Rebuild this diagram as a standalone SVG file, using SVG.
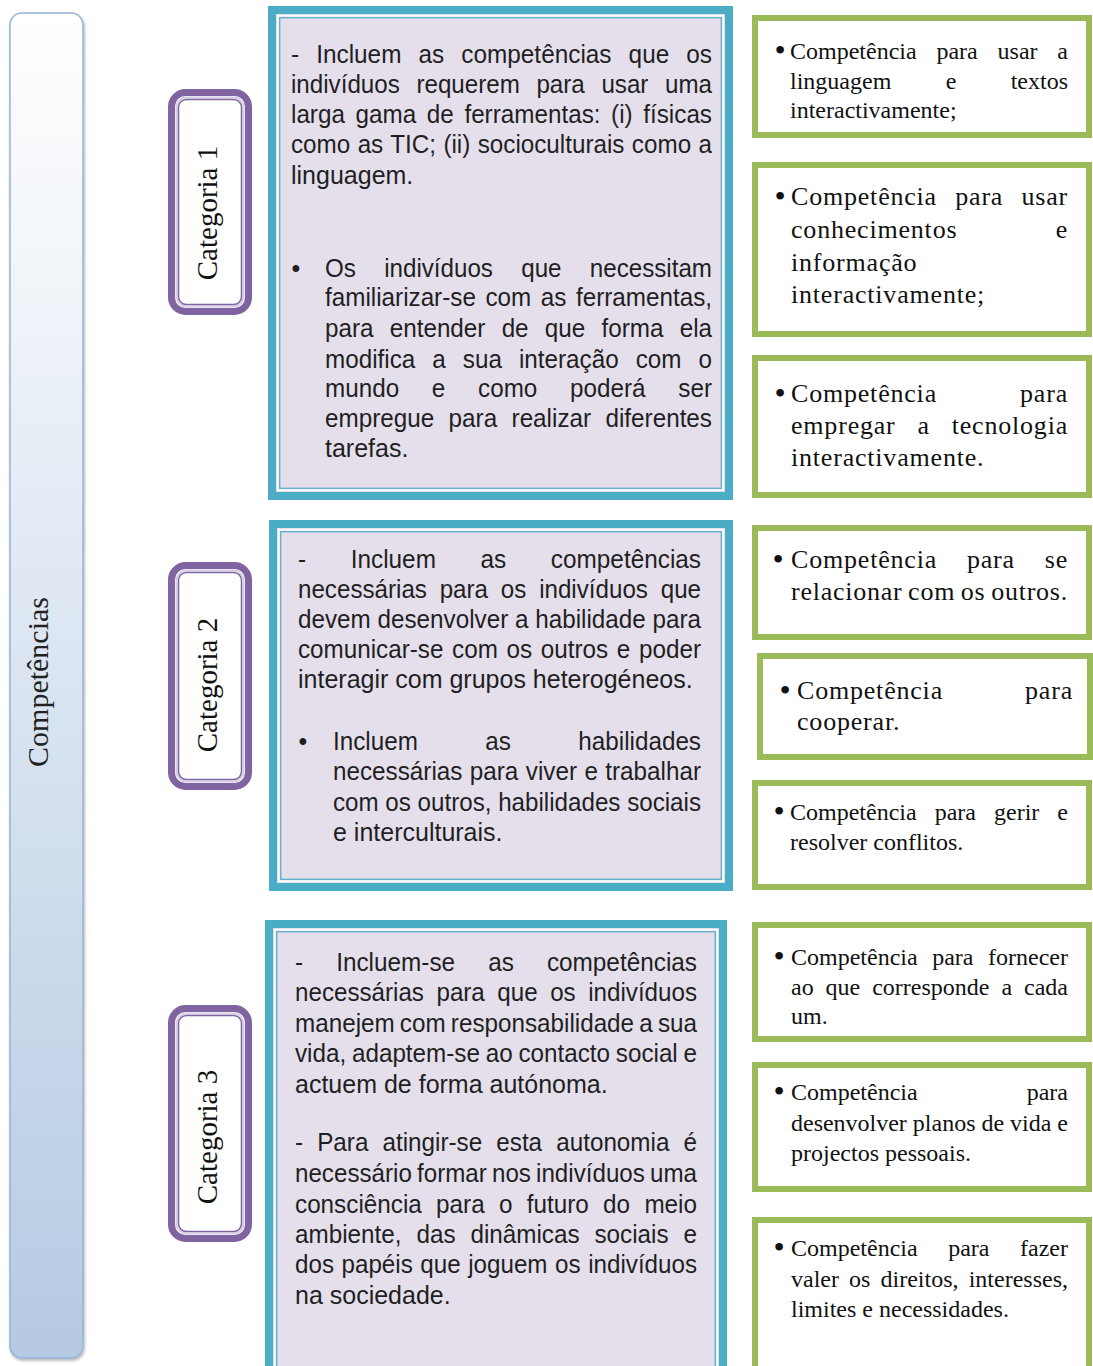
<svg xmlns="http://www.w3.org/2000/svg" width="1093" height="1366" viewBox="0 0 1093 1366">
<defs>
<linearGradient id="barGrad" x1="0" y1="0" x2="0" y2="1">
<stop offset="0" stop-color="#ffffff"/>
<stop offset="1" stop-color="#b5cae3"/>
</linearGradient>
<filter id="shadow" x="-20%" y="-5%" width="140%" height="110%">
<feDropShadow dx="1" dy="2" stdDeviation="1.5" flood-color="#000" flood-opacity="0.3"/>
</filter>
<style>
.bar{fill:url(#barGrad);stroke:#95b3d7;stroke-width:1.5}
.catO{fill:#ffffff;stroke:#8064a2;stroke-width:7}
.catM{fill:none;stroke:#d8cfe5;stroke-width:2}
.catI{fill:none;stroke:#8064a2;stroke-width:1.5}
.band{fill:#e5dfec;stroke:#4bacc6;stroke-width:8}
.wl{fill:none;stroke:#ffffff;stroke-width:1.5}
.tl{fill:none;stroke:#4bacc6;stroke-width:1.2}
.gb{fill:#ffffff;stroke:#9bbb59;stroke-width:6}
.bt{font-family:"Liberation Sans",Arial,sans-serif;font-size:25px;fill:#1f1f1f}
.gt{font-family:"Liberation Serif","Times New Roman",serif;font-size:24px;fill:#111111}
.gw{font-size:26px;letter-spacing:0.8px}
.gbul{font-family:"Liberation Serif","Times New Roman",serif;font-size:32px;fill:#111111}
.cat{font-family:"Liberation Serif","Times New Roman",serif;font-size:29px;fill:#111111}
.big{font-family:"Liberation Serif","Times New Roman",serif;font-size:30px;fill:#222222}
</style>
</defs>
<rect width="1093" height="1366" fill="#ffffff"/>

<g id="competencias">
<rect class="bar" x="10" y="13" width="73" height="1345" rx="12" filter="url(#shadow)"/>
<text class="big" transform="translate(48,682) rotate(-90)" text-anchor="middle">Competências</text>
</g>

<g id="categoria-1">
<rect class="catO" x="171.5" y="92.5" width="77" height="219" rx="14"/>
<rect class="catM" x="176.5" y="97.5" width="67" height="209" rx="10"/>
<rect class="catI" x="178.5" y="99.5" width="63" height="205" rx="8"/>
<text class="cat" transform="translate(217,213) rotate(-90)" text-anchor="middle">Categoria 1</text>
</g>
<g id="categoria-2">
<rect class="catO" x="171.5" y="565.5" width="77" height="221" rx="14"/>
<rect class="catM" x="176.5" y="570.5" width="67" height="211" rx="10"/>
<rect class="catI" x="178.5" y="572.5" width="63" height="207" rx="8"/>
<text class="cat" transform="translate(217,685) rotate(-90)" text-anchor="middle">Categoria 2</text>
</g>
<g id="categoria-3">
<rect class="catO" x="171.5" y="1008.5" width="77" height="230" rx="14"/>
<rect class="catM" x="176.5" y="1013.5" width="67" height="220" rx="10"/>
<rect class="catI" x="178.5" y="1015.5" width="63" height="216" rx="8"/>
<text class="cat" transform="translate(217,1137) rotate(-90)" text-anchor="middle">Categoria 3</text>
</g>

<g id="descricao-1">
<rect class="band" x="272" y="10" width="457" height="486"/>
<rect class="wl" x="277.75" y="15.75" width="445.5" height="474.5"/>
<rect class="tl" x="279.75" y="17.75" width="441.5" height="470.5"/>
<text class="bt" x="291" y="63" textLength="421" lengthAdjust="spacingAndGlyphs" style="word-spacing:10.6px">- Incluem as competências que os</text>
<text class="bt" x="291" y="93" textLength="421" lengthAdjust="spacingAndGlyphs" style="word-spacing:10.2px">indivíduos requerem para usar uma</text>
<text class="bt" x="291" y="123" textLength="421" lengthAdjust="spacingAndGlyphs" style="word-spacing:4px">larga gama de ferramentas: (i) físicas</text>
<text class="bt" x="291" y="153" textLength="421" lengthAdjust="spacingAndGlyphs" style="word-spacing:0.7px">como as TIC; (ii) socioculturais como a</text>
<text class="bt" x="291" y="184">linguagem.</text>
<text class="bt" x="296" y="277" text-anchor="middle">•</text>
<text class="bt" x="325" y="277" textLength="387" lengthAdjust="spacingAndGlyphs" style="word-spacing:22.3px">Os indivíduos que necessitam</text>
<text class="bt" x="325" y="306" textLength="387" lengthAdjust="spacingAndGlyphs" style="word-spacing:2.9px">familiarizar-se com as ferramentas,</text>
<text class="bt" x="325" y="337" textLength="387" lengthAdjust="spacingAndGlyphs" style="word-spacing:9.8px">para entender de que forma ela</text>
<text class="bt" x="325" y="368" textLength="387" lengthAdjust="spacingAndGlyphs" style="word-spacing:10.6px">modifica a sua interação com o</text>
<text class="bt" x="325" y="397" textLength="387" lengthAdjust="spacingAndGlyphs" style="word-spacing:26.8px">mundo e como poderá ser</text>
<text class="bt" x="325" y="427" textLength="387" lengthAdjust="spacingAndGlyphs" style="word-spacing:7.9px">empregue para realizar diferentes</text>
<text class="bt" x="325" y="457">tarefas.</text>
</g>

<g id="descricao-2">
<rect class="band" x="273" y="524" width="456" height="363"/>
<rect class="wl" x="278.75" y="529.75" width="444.5" height="351.5"/>
<rect class="tl" x="280.75" y="531.75" width="440.5" height="347.5"/>
<text class="bt" x="298" y="568" textLength="403" lengthAdjust="spacingAndGlyphs" style="word-spacing:38.9px">- Incluem as competências</text>
<text class="bt" x="298" y="598" textLength="403" lengthAdjust="spacingAndGlyphs" style="word-spacing:6.3px">necessárias para os indivíduos que</text>
<text class="bt" x="298" y="628" textLength="403" lengthAdjust="spacingAndGlyphs" style="word-spacing:0px">devem desenvolver a habilidade para</text>
<text class="bt" x="298" y="658" textLength="403" lengthAdjust="spacingAndGlyphs" style="word-spacing:2px">comunicar-se com os outros e poder</text>
<text class="bt" x="298" y="688">interagir com grupos heterogéneos.</text>
<text class="bt" x="303" y="750" text-anchor="middle">•</text>
<text class="bt" x="333" y="750" textLength="368" lengthAdjust="spacingAndGlyphs" style="word-spacing:62.6px">Incluem as habilidades</text>
<text class="bt" x="333" y="780" textLength="368" lengthAdjust="spacingAndGlyphs" style="word-spacing:0.7px">necessárias para viver e trabalhar</text>
<text class="bt" x="333" y="811" textLength="368" lengthAdjust="spacingAndGlyphs" style="word-spacing:0px">com os outros, habilidades sociais</text>
<text class="bt" x="333" y="841">e interculturais.</text>
</g>

<g id="descricao-3">
<rect class="band" x="269" y="924" width="454" height="462"/>
<rect class="wl" x="274.75" y="929.75" width="442.5" height="450.5"/>
<rect class="tl" x="276.75" y="931.75" width="438.5" height="446.5"/>
<text class="bt" x="295" y="971" textLength="402" lengthAdjust="spacingAndGlyphs" style="word-spacing:27px">- Incluem-se as competências</text>
<text class="bt" x="295" y="1001" textLength="402" lengthAdjust="spacingAndGlyphs" style="word-spacing:6px">necessárias para que os indivíduos</text>
<text class="bt" x="295" y="1032" textLength="402" lengthAdjust="spacingAndGlyphs" style="word-spacing:-1.6px">manejem com responsabilidade a sua</text>
<text class="bt" x="295" y="1062" textLength="402" lengthAdjust="spacingAndGlyphs" style="word-spacing:-1px">vida, adaptem-se ao contacto social e</text>
<text class="bt" x="295" y="1093">actuem de forma autónoma.</text>
<text class="bt" x="295" y="1151" textLength="402" lengthAdjust="spacingAndGlyphs" style="word-spacing:7.6px">- Para atingir-se esta autonomia é</text>
<text class="bt" x="295" y="1182" textLength="402" lengthAdjust="spacingAndGlyphs" style="word-spacing:-1.6px">necessário formar nos indivíduos uma</text>
<text class="bt" x="295" y="1213" textLength="402" lengthAdjust="spacingAndGlyphs" style="word-spacing:7.8px">consciência para o futuro do meio</text>
<text class="bt" x="295" y="1243" textLength="402" lengthAdjust="spacingAndGlyphs" style="word-spacing:8.4px">ambiente, das dinâmicas sociais e</text>
<text class="bt" x="295" y="1273" textLength="402" lengthAdjust="spacingAndGlyphs" style="word-spacing:0.9px">dos papéis que joguem os indivíduos</text>
<text class="bt" x="295" y="1304">na sociedade.</text>
</g>

<g id="competencia-1">
<rect class="gb" x="755" y="18" width="334" height="117"/>
<text class="gbul" x="780" y="61" text-anchor="middle">•</text>
<text class="gt" x="790" y="59" textLength="278" lengthAdjust="spacing" style="word-spacing:13.8px">Competência para usar a</text>
<text class="gt" x="790" y="89" textLength="278" lengthAdjust="spacing" style="word-spacing:48.3px">linguagem e textos</text>
<text class="gt" x="790" y="118">interactivamente;</text>
</g>
<g id="competencia-2">
<rect class="gb" x="755" y="165" width="334" height="169"/>
<text class="gbul" x="780" y="207" text-anchor="middle">•</text>
<text class="gt gw" x="791" y="205" textLength="277" lengthAdjust="spacing" style="word-spacing:11px">Competência para usar</text>
<text class="gt gw" x="791" y="238" textLength="277" lengthAdjust="spacing" style="word-spacing:91px">conhecimentos e</text>
<text class="gt gw" x="791" y="271">informação</text>
<text class="gt gw" x="791" y="303">interactivamente;</text>
</g>
<g id="competencia-3">
<rect class="gb" x="755" y="358" width="334" height="137"/>
<text class="gbul" x="780" y="404" text-anchor="middle">•</text>
<text class="gt gw" x="791" y="402" textLength="277" lengthAdjust="spacing" style="word-spacing:75.8px">Competência para</text>
<text class="gt gw" x="791" y="434" textLength="277" lengthAdjust="spacing" style="word-spacing:14.6px">empregar a tecnologia</text>
<text class="gt gw" x="791" y="466">interactivamente.</text>
</g>
<g id="competencia-4">
<rect class="gb" x="755" y="528" width="334" height="109"/>
<text class="gbul" x="778" y="570" text-anchor="middle">•</text>
<text class="gt gw" x="791" y="568" textLength="277" lengthAdjust="spacing" style="word-spacing:22.6px">Competência para se</text>
<text class="gt gw" x="791" y="600" textLength="277" lengthAdjust="spacing" style="word-spacing:-1.5px">relacionar com os outros.</text>
</g>
<g id="competencia-5">
<rect class="gb" x="760" y="656" width="330" height="101"/>
<text class="gbul" x="785" y="701" text-anchor="middle">•</text>
<text class="gt gw" x="797" y="699" textLength="276" lengthAdjust="spacing" style="word-spacing:74.8px">Competência para</text>
<text class="gt gw" x="797" y="730">cooperar.</text>
</g>
<g id="competencia-6">
<rect class="gb" x="755" y="783" width="334" height="104"/>
<text class="gbul" x="779" y="822" text-anchor="middle">•</text>
<text class="gt" x="790" y="820" textLength="278" lengthAdjust="spacing" style="word-spacing:12px">Competência para gerir e</text>
<text class="gt" x="790" y="850">resolver conflitos.</text>
</g>
<g id="competencia-7">
<rect class="gb" x="755" y="925" width="334" height="114"/>
<text class="gbul" x="779" y="967" text-anchor="middle">•</text>
<text class="gt" x="791" y="965" textLength="277" lengthAdjust="spacing" style="word-spacing:8.5px">Competência para fornecer</text>
<text class="gt" x="791" y="995" textLength="277" lengthAdjust="spacing" style="word-spacing:5.9px">ao que corresponde a cada</text>
<text class="gt" x="791" y="1024">um.</text>
</g>
<g id="competencia-8">
<rect class="gb" x="755" y="1065" width="334" height="124"/>
<text class="gbul" x="779" y="1102" text-anchor="middle">•</text>
<text class="gt" x="791" y="1100" textLength="277" lengthAdjust="spacing" style="word-spacing:103px">Competência para</text>
<text class="gt" x="791" y="1131" textLength="277" lengthAdjust="spacing" style="word-spacing:0px">desenvolver planos de vida e</text>
<text class="gt" x="791" y="1161">projectos pessoais.</text>
</g>
<g id="competencia-9">
<rect class="gb" x="755" y="1220" width="334" height="170"/>
<text class="gbul" x="779" y="1258" text-anchor="middle">•</text>
<text class="gt" x="791" y="1256" textLength="277" lengthAdjust="spacing" style="word-spacing:24.5px">Competência para fazer</text>
<text class="gt" x="791" y="1287" textLength="277" lengthAdjust="spacing" style="word-spacing:4.1px">valer os direitos, interesses,</text>
<text class="gt" x="791" y="1317">limites e necessidades.</text>
</g>

<g id="connectors"></g>
</svg>
